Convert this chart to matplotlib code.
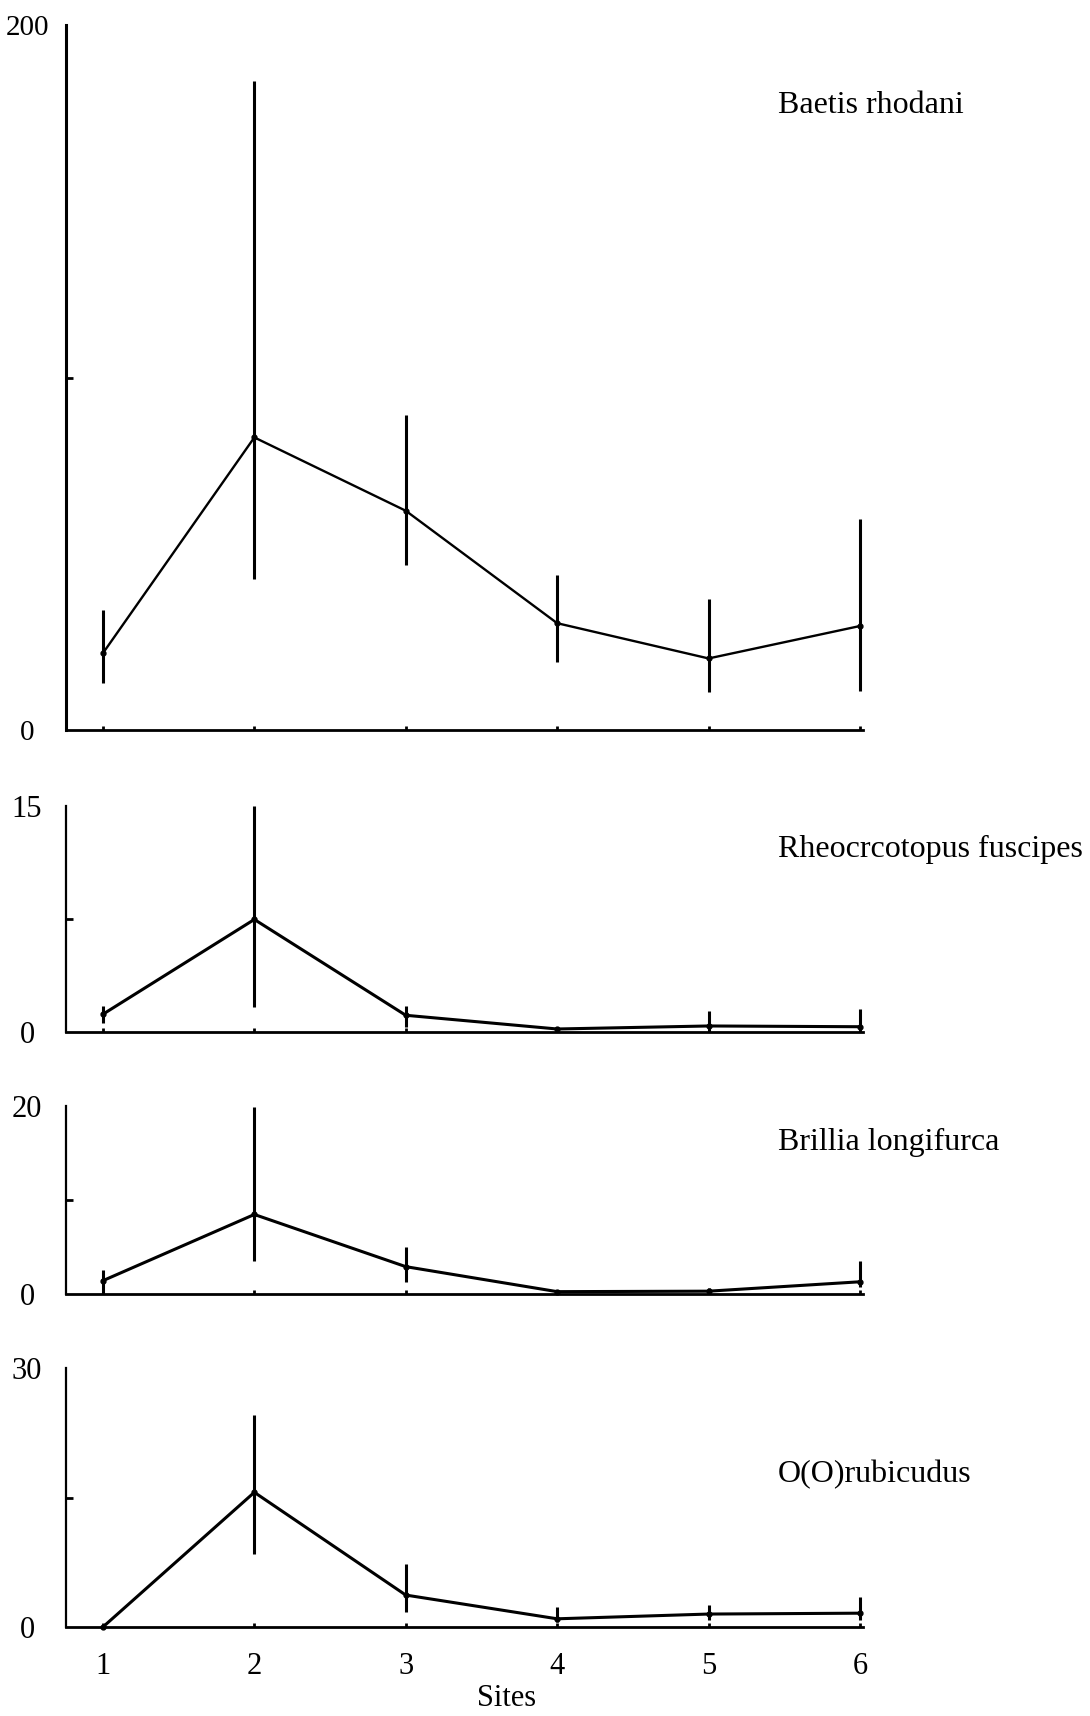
import matplotlib
matplotlib.use("Agg")
import matplotlib.pyplot as plt
import numpy as np

plt.rcParams['font.family'] = ['Liberation Serif', 'DejaVu Serif']

# Sampling sites along the stream
sites = [1, 2, 3, 4, 5, 6]
site_labels = ['1', '2', '3', '4', '5', '6']

# Mean abundance per site with the lower / upper ends of the error bars
baetis_mean = [21.8, 83.0, 62.2, 30.3, 20.3, 29.5]
baetis_low = [13.2, 42.7, 46.8, 19.4, 10.9, 11.1]
baetis_high = [34.0, 184.0, 89.4, 44.0, 37.2, 59.9]

rheo_mean = [1.18, 7.47, 1.11, 0.2, 0.4, 0.35]
rheo_low = [0.58, 1.66, 0.33, 0.2, 0.0, 0.0]
rheo_high = [1.71, 15.0, 1.75, 0.2, 1.4, 1.5]

brillia_mean = [1.42, 8.46, 2.91, 0.25, 0.3, 1.3]
brillia_low = [0.0, 3.56, 1.24, 0.25, 0.0, 0.7]
brillia_high = [2.56, 19.9, 5.05, 0.25, 0.65, 3.55]

orub_mean = [0.0, 15.6, 3.7, 0.95, 1.5, 1.6]
orub_low = [0.0, 8.5, 1.74, 0.6, 0.85, 0.77]
orub_high = [0.0, 24.5, 7.35, 2.3, 2.6, 3.5]

species = ['Baetis rhodani', 'Rheocrcotopus fuscipes',
           'Brillia longifurca', 'O(O)rubicudus']
y_tops = [200, 15, 20, 30]
y_top_labels = ['200', '15', '20', '30']

means = [baetis_mean, rheo_mean, brillia_mean, orub_mean]
lows = [baetis_low, rheo_low, brillia_low, orub_low]
highs = [baetis_high, rheo_high, brillia_high, orub_high]

W, H = 1090, 1716
fig = plt.figure(figsize=(W / 100, H / 100), dpi=100)

# panel rectangles in pixels: (top, bottom) of the value axis
panel_px = [(25, 730), (806, 1032), (1106, 1294), (1368, 1627)]
left_px, right_px = 66, 863
label_baseline_px = [113, 857, 1150, 1482]
label_x_px = 778

for i, (top, bot) in enumerate(panel_px):
    ax = fig.add_axes([left_px / W, 1 - bot / H,
                       (right_px - left_px) / W, (bot - top) / H])
    m = np.array(means[i])
    lo = np.array(lows[i])
    hi = np.array(highs[i])
    lw_line = 1.7 if i == 0 else 2.2
    ax.errorbar(sites, m, yerr=[m - lo, hi - m], fmt='-o', color='black',
                lw=lw_line, ms=3.5, elinewidth=2.2, capsize=0, clip_on=False)

    ax.set_xlim(0.756, 6.02)
    ax.set_ylim(0, y_tops[i])

    for s in ['top', 'right']:
        ax.spines[s].set_visible(False)
    ax.spines['left'].set_linewidth(2.2 if i == 0 else 1.6)
    ax.spines['bottom'].set_linewidth(2.0)

    # x ticks: small inward marks at each site, labels only on the bottom panel
    ax.set_xticks(sites)
    if i == 3:
        ax.set_xticklabels(site_labels, fontsize=22)
    else:
        ax.set_xticklabels([])
    ax.tick_params(axis='x', direction='in', length=3, width=2, pad=18)

    # y axis: end labels plus a short mid-scale tick
    ax.set_yticks([0, y_tops[i]])
    ax.set_yticklabels(['0', y_top_labels[i]], fontsize=21 if i == 0 else 22)
    ax.set_yticks([y_tops[i] / 2], minor=True)
    ax.tick_params(axis='y', which='major', length=0, pad=28)
    ax.tick_params(axis='y', which='minor', direction='in', length=5, width=2)
    for lab in ax.get_yticklabels():
        lab.set_horizontalalignment('center')

    fig.text(label_x_px / W, 1 - label_baseline_px[i] / H, species[i],
             fontsize=23, ha='left', va='baseline')

fig.text(507 / W, 1 - 1698 / H, 'Sites', fontsize=22, ha='center', va='center')

fig.savefig('out.png', dpi=100)
